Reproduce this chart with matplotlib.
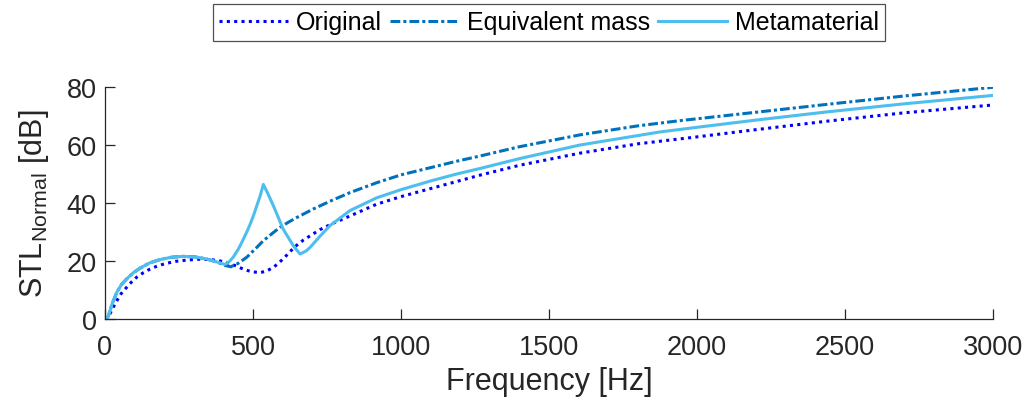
import matplotlib
matplotlib.use("Agg")
import matplotlib.pyplot as plt

plt.rcParams['font.family'] = ['Liberation Sans', 'DejaVu Sans']
plt.rcParams['mathtext.default'] = 'regular'

# ---- data ----
freq_original = [0, 11, 25, 40, 55, 73, 90, 107, 130, 152, 180, 208, 240, 276,
                 315, 355, 385, 411, 440, 467, 495, 524, 545, 569, 590, 614,
                 640, 670, 726, 770, 816, 918, 1000, 1108, 1267, 1400, 1605,
                 1800, 2000, 2200, 2438, 2700, 3000]
stl_original = [0.0, 0.6, 3.5, 6.3, 8.8, 10.9, 12.8, 14.4, 16.0, 17.2, 18.4,
                19.2, 19.9, 20.3, 20.6, 20.5, 20.1, 19.5, 18.4, 17.2, 16.3,
                16.0, 16.5, 17.8, 19.6, 22.0, 24.8, 27.2, 30.8, 33.0, 35.0,
                39.6, 42.2, 45.2, 49.6, 53.0, 57.2, 60.4, 62.8, 65.3, 68.2,
                71.1, 73.8]

freq_equiv = [0, 11, 25, 40, 55, 73, 95, 118, 150, 186, 225, 265, 305, 343,
              380, 405, 425, 450, 479, 510, 535, 565, 591, 620, 648, 703, 760,
              828, 918, 1000, 1188, 1267, 1400, 1605, 1800, 1943, 2200, 2438,
              2700, 3000]
stl_equiv = [0.0, 0.9, 5.5, 9.2, 11.8, 13.8, 15.9, 17.5, 19.3, 20.5, 21.3,
             21.6, 21.4, 20.7, 19.6, 18.5, 18.0, 19.2, 21.3, 24.4, 27.0, 29.5,
             31.6, 33.4, 35.0, 37.9, 40.6, 43.6, 47.0, 49.7, 54.4, 56.2, 59.4,
             63.5, 66.6, 68.4, 71.3, 74.0, 76.9, 79.9]

freq_meta = [0, 11, 25, 40, 55, 73, 95, 118, 150, 186, 225, 265, 305, 343,
             380, 405, 420, 433, 450, 465, 479, 490, 500, 512, 524, 535, 550,
             569, 602, 636, 659, 680, 693, 726, 760, 828, 918, 1000, 1100,
             1188, 1267, 1400, 1605, 1875, 2000, 2200, 2438, 2700, 3000]
stl_meta = [0.0, 0.9, 5.5, 9.2, 11.8, 13.8, 15.9, 17.5, 19.3, 20.5, 21.3,
            21.6, 21.4, 20.7, 19.6, 18.8, 19.8, 21.3, 24.0, 27.0, 30.0, 32.6,
            35.2, 38.8, 42.4, 46.4, 43.3, 39.0, 31.0, 25.3, 22.4, 23.5, 24.7,
            28.5, 32.2, 37.4, 41.8, 44.6, 47.6, 50.0, 51.9, 55.3, 60.0, 64.5,
            66.1, 68.6, 71.4, 74.2, 77.1]

labels = ['Original', 'Equivalent mass', 'Metamaterial']
colors = ['#0000FF', '#0072BD', '#4DBEEE']

x_ticks = [0, 500, 1000, 1500, 2000, 2500, 3000]
y_ticks = [0, 20, 40, 60, 80]

# ---- figure ----
fig = plt.figure(figsize=(10.27, 4.14), dpi=100)
ax = fig.add_axes([105/1027, 1 - 320/414, (993 - 105)/1027, (320 - 88)/414])

ax.plot(freq_original, stl_original, color=colors[0], lw=2.2,
        linestyle=(0, (1, 1.4)), label=labels[0])
ax.plot(freq_equiv, stl_equiv, color=colors[1], lw=2.2,
        linestyle=(0, (3.2, 1.0, 1.0, 1.0)), label=labels[1])
ax.plot(freq_meta, stl_meta, color=colors[2], lw=2.2,
        linestyle='-', label=labels[2])

ax.set_xlim(0, 3000)
ax.set_ylim(0, 80)
ax.set_xticks(x_ticks)
ax.set_yticks(y_ticks)

for s in ['top', 'right']:
    ax.spines[s].set_visible(False)
for s in ['left', 'bottom']:
    ax.spines[s].set_color('#262626')
    ax.spines[s].set_linewidth(0.9)

ax.tick_params(direction='in', length=7, width=0.9, color='#262626',
               labelcolor='#262626', labelsize=19.5)
ax.tick_params(axis='x', pad=11)
ax.tick_params(axis='y', pad=6)

ax.set_xlabel('Frequency [Hz]', fontsize=22, color='#262626', labelpad=4)
ax.set_ylabel('STL$_{Normal}$ [dB]', fontsize=22, color='#262626', labelpad=11)

leg = fig.legend(loc='upper center', bbox_to_anchor=(549/1027, 1 - 5/414),
                 ncol=3, fontsize=18, frameon=True, fancybox=False,
                 handlelength=2.75, handletextpad=0.3, columnspacing=0.35,
                 borderpad=0.25, borderaxespad=0)
leg.get_frame().set_edgecolor('#262626')
leg.get_frame().set_linewidth(0.9)
for t in leg.get_texts():
    t.set_color('#000000')

fig.savefig('out.png', dpi=100)
